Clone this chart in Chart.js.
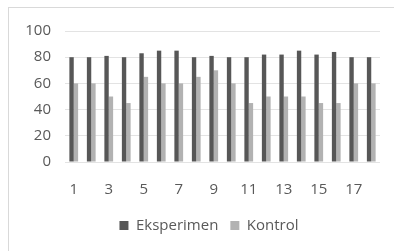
<!DOCTYPE html>
<html>
<head>
<meta charset="utf-8">
<script src="https://cdn.jsdelivr.net/npm/chart.js@4"></script>
<style>
  html, body { margin: 0; padding: 0; background: #fff; overflow: hidden; }
  body { width: 394px; height: 251px; position: relative; }
  #frame {
    position: absolute; left: 8px; top: 7px; width: 400px; height: 250px;
    border-left: 1px solid #d9d9d9; border-top: 1px solid #d9d9d9;
  }
  #box { position: absolute; left: 0; top: 0; width: 400px; height: 244px; }
</style>
</head>
<body>
<div id="frame"><div id="box"><canvas id="barChart"></canvas></div></div>
<script>
const categories = ['1','2','3','4','5','6','7','8','9','10','11','12','13','14','15','16','17','18'];
const eksperimen = [80, 80, 81, 80, 83, 85, 85, 80, 81, 80, 80, 82, 82, 85, 82, 84, 80, 80];
const kontrol = [60, 60, 50, 45, 65, 60, 60, 65, 70, 60, 45, 50, 50, 50, 45, 45, 60, 60];
const yTicks = [0, 20, 40, 60, 80, 100];

const textColor = '#595959';
const font = { family: '"Open Sans", "Liberation Sans", sans-serif', size: 15 };

// Bar Chart
const barCtx = document.getElementById('barChart').getContext('2d');
new Chart(barCtx, {
    type: 'bar',
    data: {
        labels: categories,
        datasets: [{
            label: 'Eksperimen',
            data: eksperimen,
            backgroundColor: '#575757'
        }, {
            label: 'Kontrol',
            data: kontrol,
            backgroundColor: '#b2b2b2'
        }]
    },
    options: {
        responsive: true,
        maintainAspectRatio: false,
        animation: false,
        datasets: { bar: { categoryPercentage: 0.5, barPercentage: 1.0 } },
        layout: { padding: { left: 0, right: 0, top: 18, bottom: 9 } },
        scales: {
            x: {
                grid: { display: false },
                border: { display: false },
                ticks: {
                    color: textColor, font: font, autoSkip: false, maxRotation: 0, padding: 11,
                    callback: function (v, i) { return i % 2 === 0 ? categories[i] : ''; }
                },
                afterFit: function (s) { s.height = 44; }
            },
            y: {
                min: 0, max: 100,
                afterBuildTicks: function (s) { s.ticks = yTicks.map(v => ({ value: v })); },
                grid: { color: '#e3e3e3', lineWidth: 1, drawTicks: false },
                border: { display: false },
                ticks: { color: textColor, font: font, padding: 14 },
                afterFit: function (s) { s.width = 56; }
            },
            // empty right axis, only keeps space so the legend stays centred on the whole frame
            spacer: {
                position: 'right',
                grid: { display: false },
                border: { display: false },
                ticks: { display: false },
                afterFit: function (s) { s.width = 29; }
            }
        },
        plugins: {
            legend: {
                display: true,
                position: 'bottom',
                labels: { color: textColor, font: font, boxWidth: 9, boxHeight: 9, padding: 12 }
            },
            tooltip: { enabled: false }
        }
    }
});
</script>
</body>
</html>
